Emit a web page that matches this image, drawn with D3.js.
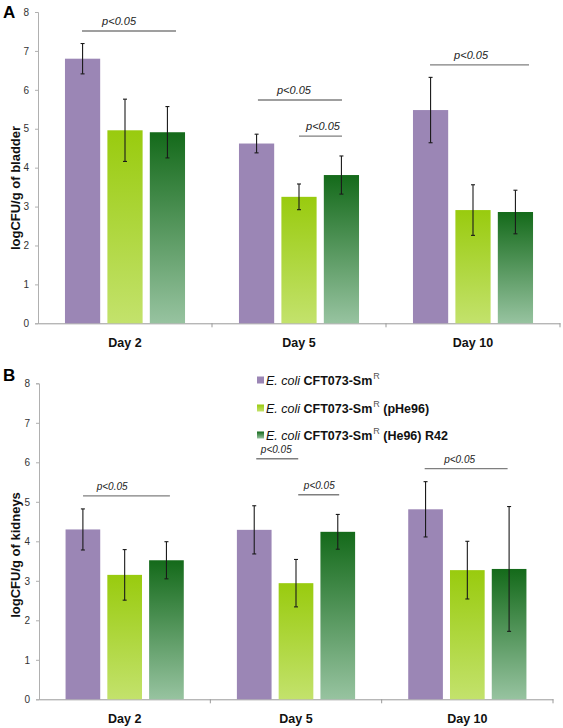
<!DOCTYPE html>
<html><head><meta charset="utf-8">
<script src="https://cdn.jsdelivr.net/npm/d3@7"></script>
<style>body{margin:0;background:#fff}svg{display:block;font-family:"Liberation Sans",Arial,sans-serif}</style>
</head><body><svg id="c" width="563" height="728"></svg>
<script>
const days = ["Day 2", "Day 5", "Day 10"];
const seriesKeys = ["wt", "pHe96", "R42"];
const yTicks = [0,1,2,3,4,5,6,7,8];
// Panel A: bladder
const bladderMean = {wt:[6.80,4.62,5.48], pHe96:[4.96,3.25,2.91], R42:[4.91,3.81,2.86]};
const bladderErr  = {wt:[0.39,0.24,0.84], pHe96:[0.80,0.33,0.65], R42:[0.66,0.49,0.56]};
// Panel B: kidneys
const kidneyMean = {wt:[4.30,4.29,4.81], pHe96:[3.15,2.94,3.27], R42:[3.52,4.24,3.30]};
const kidneyErr  = {wt:[0.52,0.61,0.70], pHe96:[0.64,0.60,0.73], R42:[0.47,0.44,1.58]};
// significance brackets: group, start/end as fraction of group width, y level (data units), text centre fraction
const bladderSig = [
  {g:0, x1:0.253, x2:0.793, y:7.51, tx:0.466},
  {g:1, x1:0.264, x2:0.747, y:5.74, tx:0.471},
  {g:1, x1:0.500, x2:0.747, y:4.81, tx:0.638},
  {g:2, x1:0.253, x2:0.822, y:6.64, tx:0.489}
];
const kidneySig = [
  {g:0, x1:0.257, x2:0.764, y:5.15, tx:0.427},
  {g:1, x1:0.268, x2:0.513, y:6.09, tx:0.385},
  {g:1, x1:0.513, x2:0.752, y:5.18, tx:0.636},
  {g:2, x1:0.251, x2:0.735, y:5.84, tx:0.455}
];
const sigText = "p<0.05";

const svg = d3.select("#c");
const defs = svg.append("defs");
function grad(id, top, bottom){
  const g = defs.append("linearGradient").attr("id", id).attr("x1",0).attr("y1",0).attr("x2",0).attr("y2",1);
  g.append("stop").attr("offset","0%").attr("stop-color", top);
  g.append("stop").attr("offset","100%").attr("stop-color", bottom);
}
grad("gLime", "#99cb0e", "#c3e26c");
grad("gGreen", "#146a1a", "#97c3a0");
const fills = {wt:"#9b86b5", pHe96:"url(#gLime)", R42:"url(#gGreen)"};

function panel(o){
  const y = d3.scaleLinear().domain([0,8]).range([o.bottom, o.top]);
  const x0 = d3.scaleBand().domain(days).range([o.left, o.right]).padding(0);
  const gw = x0.bandwidth();
  const x1 = d3.scaleBand().domain(seriesKeys).range([gw*0.155, gw*0.845]).paddingInner(0.17);
  const g = svg.append("g");
  const ya = g.append("g").attr("transform",`translate(${o.left},0)`)
    .call(d3.axisLeft(y).tickValues(yTicks).tickSize(3).tickPadding(6).tickFormat(d3.format("d")));
  ya.select(".domain").attr("stroke","#b0b0b0");
  ya.selectAll(".tick line").attr("stroke","#b0b0b0");
  ya.selectAll("text").attr("font-size",10).attr("fill","#333").attr("font-family","Liberation Sans, Arial");
  const xa = g.append("g").attr("transform",`translate(0,${o.bottom})`)
    .call(d3.axisBottom(x0).tickSize(0).tickPadding(15).tickSizeOuter(0));
  xa.select(".domain").attr("stroke","#999");
  xa.selectAll("text").attr("font-size",12.5).attr("font-weight","bold").attr("fill","#111").attr("font-family","Liberation Sans, Arial");
  g.selectAll("line.sep").data(days.slice(1).map(d=>x0(d)).concat([o.right])).join("line")
    .attr("x1",d=>d).attr("x2",d=>d).attr("y1",o.bottom).attr("y2",o.bottom+4).attr("stroke","#999");
  seriesKeys.forEach(k=>{
    days.forEach((d,i)=>{
      const bx = x0(d)+x1(k), bw = x1.bandwidth();
      const v = o.mean[k][i], e = o.err[k][i];
      g.append("rect").attr("x",bx).attr("y",y(v)).attr("width",bw).attr("height",y(0)-y(v))
        .attr("fill",fills[k]);
      const cx = bx+bw/2;
      g.append("line").attr("x1",cx).attr("x2",cx).attr("y1",y(v+e)).attr("y2",y(v-e)).attr("stroke","#1a1a1a").attr("stroke-width",1.1);
      [v+e, v-e].forEach(t=>g.append("line").attr("x1",cx-2).attr("x2",cx+2).attr("y1",y(t)).attr("y2",y(t)).attr("stroke","#1a1a1a").attr("stroke-width",1.1));
    });
  });
  o.sig.forEach(s=>{
    const gx = x0(days[s.g]);
    g.append("line").attr("x1",gx+gw*s.x1).attr("x2",gx+gw*s.x2).attr("y1",y(s.y)).attr("y2",y(s.y))
      .attr("stroke","#7f7f7f").attr("stroke-width",1.4);
    g.append("text").attr("x",gx+gw*s.tx).attr("y",y(s.y)-6).attr("text-anchor","middle")
      .attr("font-size",o.sigSize).attr("font-style","italic").attr("fill","#222").text(sigText);
  });
  g.append("text").attr("transform",`translate(${o.ylabX},${o.ylabY}) rotate(-90)`).attr("text-anchor","middle")
    .attr("font-size",13).attr("font-weight","bold").attr("fill","#111").text(o.ylab);
  g.append("text").attr("x",3).attr("y",o.letterY).attr("font-size",17).attr("font-weight","bold").attr("fill","#000").text(o.letter);
}

panel({top:12, bottom:323.3, left:38, right:560, mean:bladderMean, err:bladderErr, sig:bladderSig, sigSize:11,
  ylab:"logCFU/g of bladder", ylabX:20, ylabY:188, letter:"A", letterY:18});
panel({top:383.3, bottom:699.3, left:39, right:553, mean:kidneyMean, err:kidneyErr, sig:kidneySig, sigSize:10,
  ylab:"logCFU/g of kidneys", ylabX:20, ylabY:555, letter:"B", letterY:381});

const legendItems = [
  {k:"wt", extra:""},
  {k:"pHe96", extra:" (pHe96)"},
  {k:"R42", extra:" (He96) R42"}
];
const legendY = [380, 408, 435];
const lg = svg.append("g");
legendItems.forEach((it,i)=>{
  lg.append("rect").attr("x",257).attr("y",legendY[i]-3.5).attr("width",7).attr("height",7).attr("fill",fills[it.k]);
  const t = lg.append("text").attr("x",266).attr("y",legendY[i]+5).attr("font-size",12.5).attr("fill","#111");
  t.append("tspan").attr("font-style","italic").text("E. coli ");
  t.append("tspan").attr("font-weight","bold").text("CFT073-Sm");
  t.append("tspan").attr("font-size",9).attr("dy",-6).attr("dx",1).attr("fill","#555").text("R");
  t.append("tspan").attr("font-weight","bold").attr("dy",6).text(it.extra);
});
</script></body></html>
